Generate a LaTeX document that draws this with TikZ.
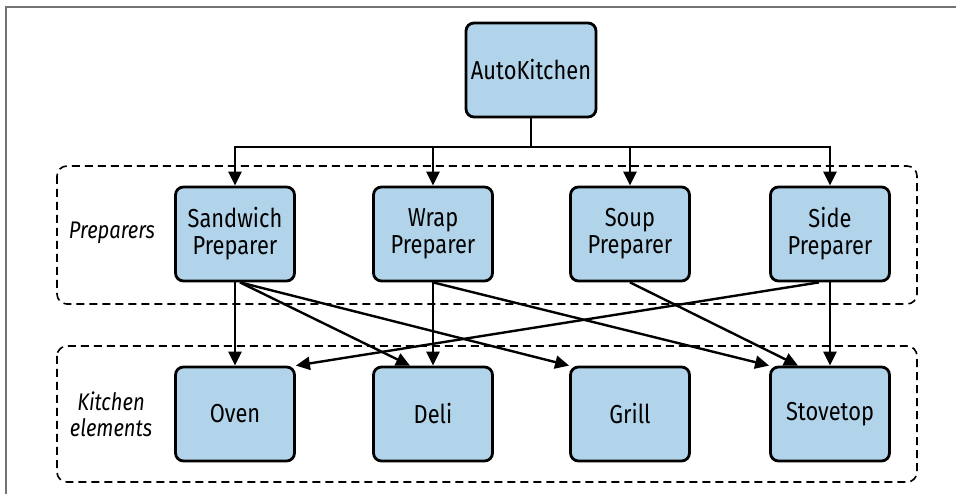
\documentclass[tikz,border=0pt]{standalone}
\usepackage{fontspec}
\setmainfont{Fira Sans}[FakeStretch=0.84]
\usetikzlibrary{arrows.meta}
\definecolor{caixa}{RGB}{178,212,234}

\begin{document}
\begin{tikzpicture}[x=0.5bp, y=-0.5bp, font=\fontsize{13bp}{13.5bp}\selectfont,
    box/.style={draw, line width=1.4bp, rounded corners=4bp, fill=caixa, align=center,
        minimum width=59.5bp, minimum height=47bp, inner sep=0pt},
    grupo/.style={draw, line width=0.8bp, dash pattern=on 4bp off 2.5bp, rounded corners=5bp},
    rotulo/.style={font=\fontsize{12bp}{13bp}\selectfont\itshape, align=center},
    seta/.style={-{Triangle[length=7bp, width=6.5bp]}, line width=1.2bp}]
    \useasboundingbox (0,0) rectangle (956,494);
    \draw[line width=0.7bp, black!55] (6,494) -- (6,7) -- (956,7);

    % Grupos
    \draw[grupo] (57,166) rectangle (917,304);
    \draw[grupo] (57,346) rectangle (917,482);
    \node[rotulo] (prep) at (112,233) {Preparers};
    \node[rotulo] (elem) at (111,414) {Kitchen\\elements};

    % Nós
    \node[box, minimum width=65bp] (AK) at (531,70) {AutoKitchen};
    \node[box] (sand) at (235,234) {Sandwich\\Preparer};
    \node[box] (wrap) at (433,234) {Wrap\\Preparer};
    \node[box] (soup) at (630,234) {Soup\\Preparer};
    \node[box] (side) at (830,234) {Side\\Preparer};
    \node[box] (oven) at (235,414) {Oven};
    \node[box] (deli) at (433,414) {Deli};
    \node[box] (grill) at (630,414) {Grill};
    \node[box] (stove) at (830,414) {Stovetop};

    % Barramento
    \coordinate (bus) at (531,147);
    \foreach \p in {sand, wrap, soup, side}
        \draw[seta] (AK.south) -- (bus) -| (\p.north);

    % Arestas
    \draw[seta] (sand.south) -- (oven.north);
    \draw[seta] ([xshift=2.5bp]sand.south) -- ([xshift=-11.5bp]deli.north);
    \draw[seta] ([xshift=2.5bp]sand.south) -- (grill.north west);
    \draw[seta] (wrap.south) -- (deli.north);
    \draw[seta] (wrap.south) -- (stove.north west);
    \draw[seta] (soup.south) -- ([xshift=-16bp]stove.north);
    \draw[seta] (side.south) -- (stove.north);
    \draw[seta] ([xshift=-5.5bp]side.south) -- (oven.north east);
\end{tikzpicture}
\end{document}
